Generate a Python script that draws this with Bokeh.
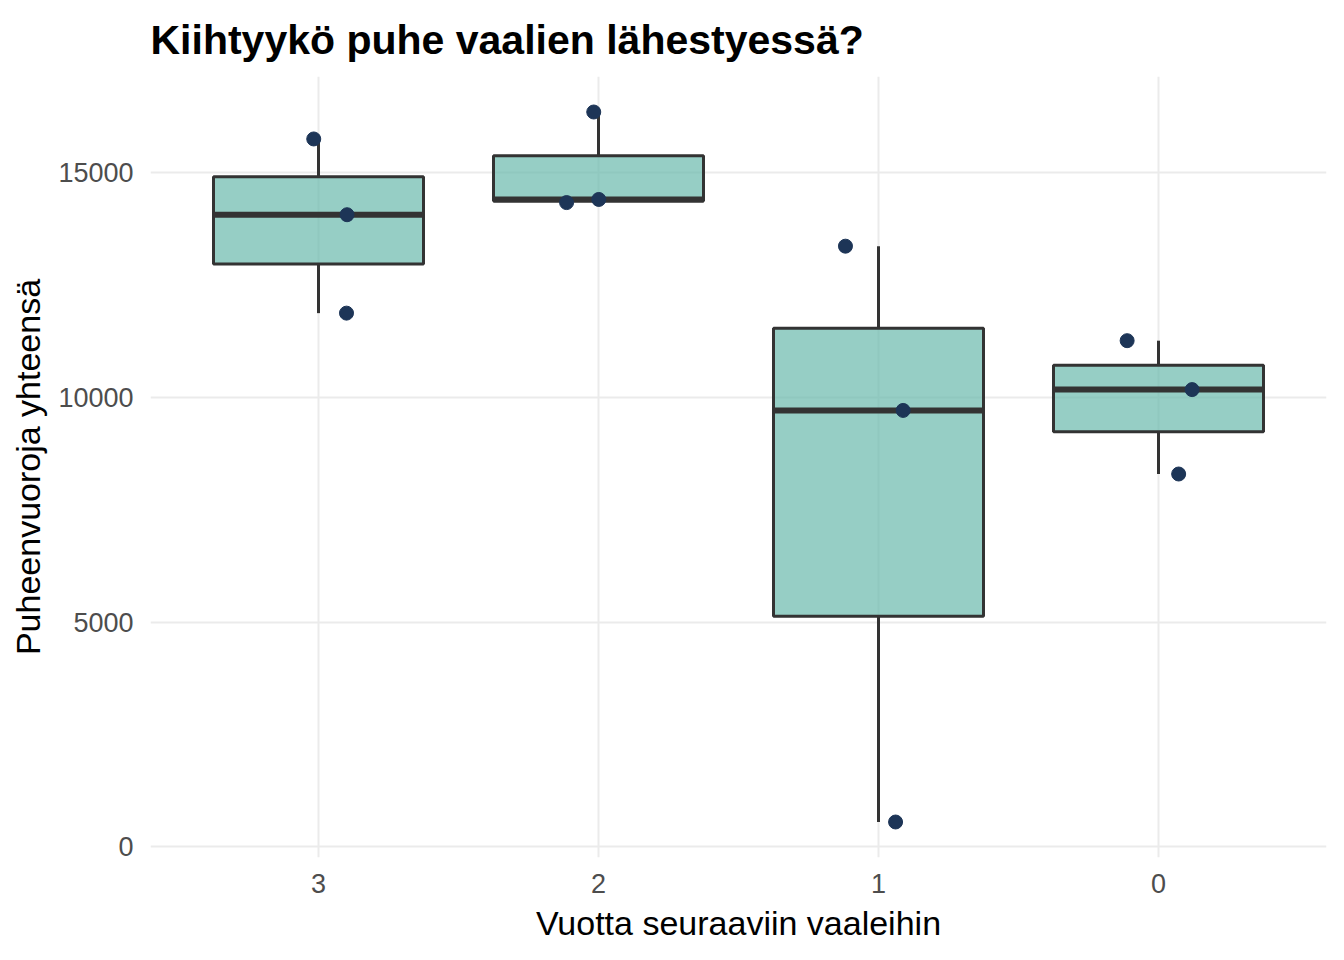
import numpy as np
from bokeh.plotting import figure
from bokeh.models import FactorRange, Range1d, FixedTicker, ColumnDataSource
from bokeh.transform import dodge
from bokeh.embed import file_html
from bokeh.resources import INLINE

# ---- data ----
years = ["3", "2", "1", "0"]
vals_3 = [15756, 14070, 11880]
vals_2 = [16356, 14340, 14410]
vals_1 = [13370, 9715, 556]
vals_0 = [11267, 10178, 8300]
jitter_3 = [-0.017, 0.102, 0.100]
jitter_2 = [-0.017, -0.114, 0.001]
jitter_1 = [-0.118, 0.088, 0.061]
jitter_0 = [-0.112, 0.120, 0.072]
y_ticks = [0, 5000, 10000, 15000]

title_text = "Kiihtyykö puhe vaalien lähestyessä?"
x_title = "Vuotta seuraaviin vaaleihin"
y_title = "Puheenvuoroja yhteensä"

groups = [vals_3, vals_2, vals_1, vals_0]
jitters = [jitter_3, jitter_2, jitter_1, jitter_0]

# ---- box statistics (R type-7 quantiles, 1.5 IQR whiskers) ----
q1, med, q3, lo_w, hi_w = [], [], [], [], []
for g in groups:
    a = np.array(g, dtype=float)
    a1, a2, a3 = np.percentile(a, [25, 50, 75])
    iqr = a3 - a1
    q1.append(a1); med.append(a2); q3.append(a3)
    lo_w.append(a[a >= a1 - 1.5 * iqr].min())
    hi_w.append(a[a <= a3 + 1.5 * iqr].max())

box_src = ColumnDataSource(dict(cat=years, q1=q1, med=med, q3=q3, lo=lo_w, hi=hi_w))

px, py = [], []
for i, (g, j) in enumerate(zip(groups, jitters)):
    for v, d in zip(g, j):
        px.append(i + 0.5 + d)   # synthetic categorical coordinate
        py.append(v)
pt_src = ColumnDataSource(dict(x=px, y=py))

all_vals = [v for g in groups for v in g]
dmin, dmax = min(all_vals), max(all_vals)
span = dmax - dmin
y_lo, y_hi = dmin - 0.05 * span, dmax + 0.05 * span

FONT = "Liberation Sans"

p = figure(
    x_range=FactorRange(factors=years, range_padding=0.1, range_padding_units="absolute"),
    y_range=Range1d(y_lo, y_hi),
    width=1328, height=944,
    output_backend="svg", toolbar_location=None,
    min_border_left=150, min_border_right=2, min_border_top=75, min_border_bottom=86,
    title=title_text,
)
p.background_fill_color = "white"
p.border_fill_color = "white"
p.outline_line_color = None

p.title.text_font = FONT
p.title.text_font_size = "41px"
p.title.text_font_style = "bold"
p.title.text_color = "black"
p.title.align = "left"
p.title.standoff = 28

# grid
p.xgrid.grid_line_color = "#EBEBEB"
p.ygrid.grid_line_color = "#EBEBEB"
p.xgrid.grid_line_width = 2
p.ygrid.grid_line_width = 2

p.yaxis.ticker = FixedTicker(ticks=y_ticks)

for ax in (p.xaxis[0], p.yaxis[0]):
    ax.axis_line_color = None
    ax.major_tick_line_color = None
    ax.minor_tick_line_color = None
    ax.major_tick_out = 0
    ax.major_tick_in = 0
    ax.minor_tick_out = 0
    ax.major_label_text_font = FONT
    ax.major_label_text_font_size = "27px"
    ax.major_label_text_color = "#4D4D4D"
    ax.axis_label_text_font = FONT
    ax.axis_label_text_font_size = "34px"
    ax.axis_label_text_font_style = "normal"
    ax.axis_label_text_color = "black"

p.xaxis.axis_label = x_title
p.yaxis.axis_label = y_title
p.xaxis.major_label_standoff = 16
p.yaxis.major_label_standoff = 17
p.xaxis.axis_label_standoff = 8
p.yaxis.axis_label_standoff = 8

LINE = "#333333"
# whiskers
p.segment(x0="cat", y0="q3", x1="cat", y1="hi", source=box_src, line_color=LINE, line_width=3)
p.segment(x0="cat", y0="q1", x1="cat", y1="lo", source=box_src, line_color=LINE, line_width=3)
# boxes
p.vbar(x="cat", width=0.75, bottom="q1", top="q3", source=box_src,
       fill_color="#6AB9AC", fill_alpha=0.7, line_color=LINE, line_width=3)
# medians
p.segment(x0=dodge("cat", -0.375, range=p.x_range), x1=dodge("cat", 0.375, range=p.x_range),
          y0="med", y1="med", source=box_src, line_color=LINE, line_width=6, line_cap="butt")
# jittered points
p.scatter(x="x", y="y", source=pt_src, size=14, fill_color="#1D3557", line_color="#1D3557")

open("out.html", "w").write(file_html(p, INLINE))
